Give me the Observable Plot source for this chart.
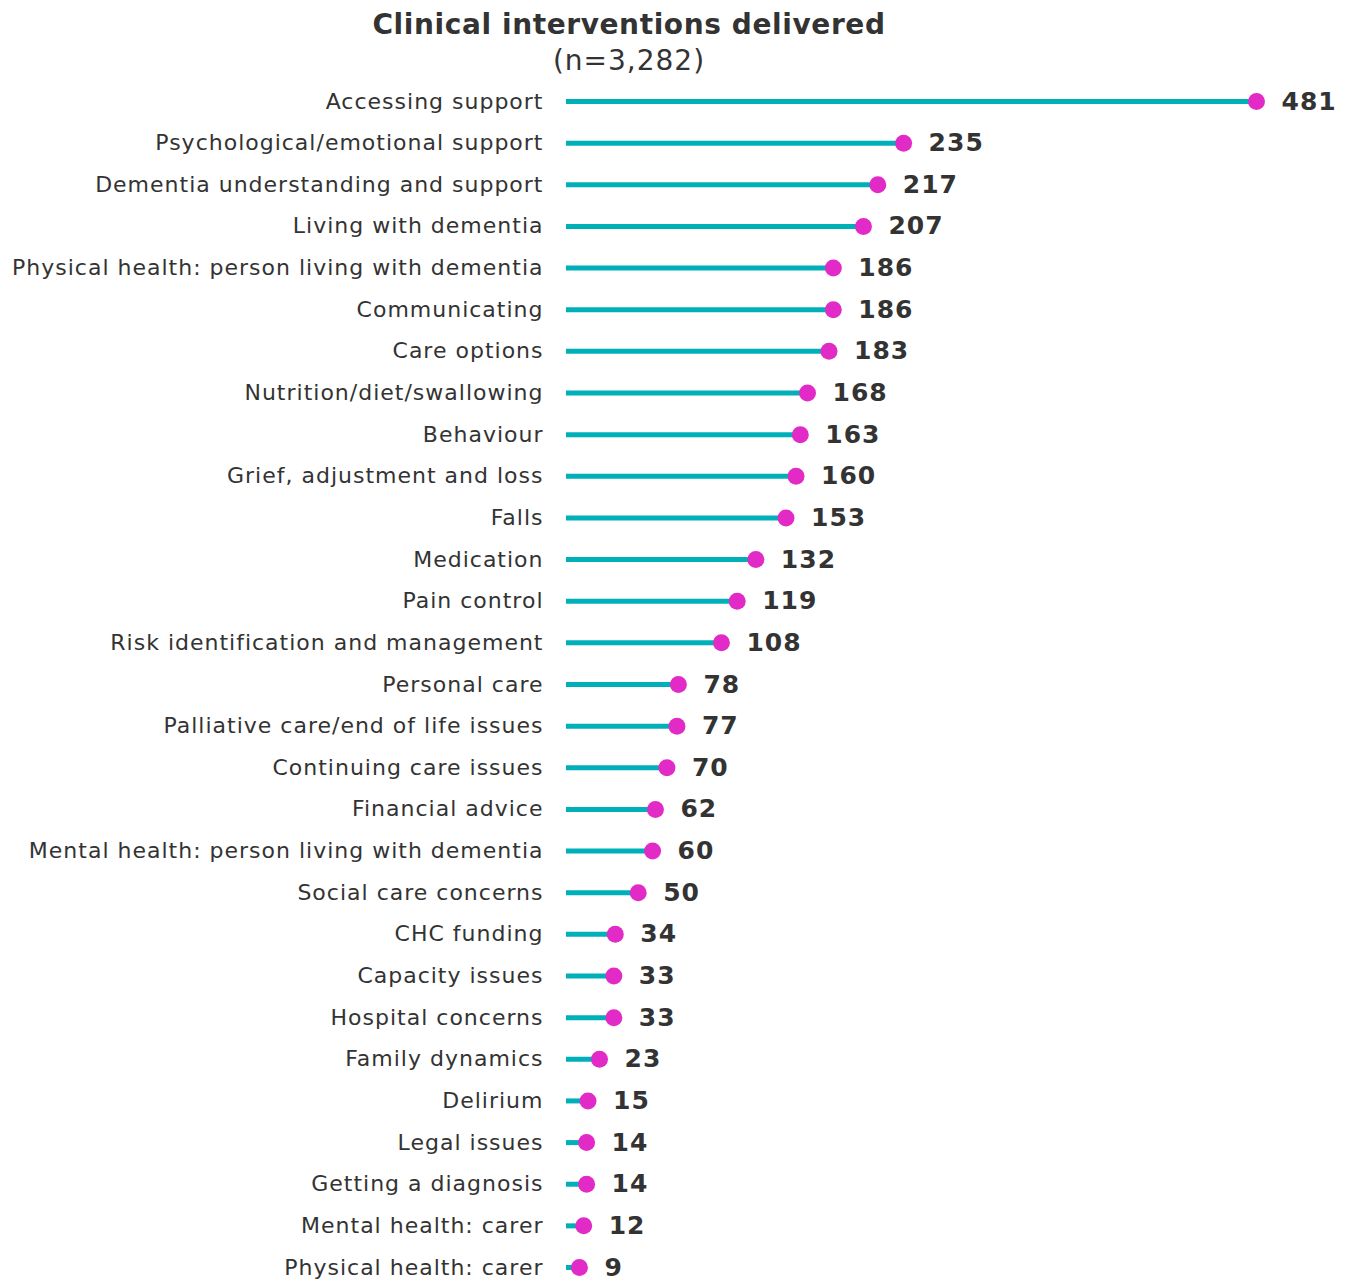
<!DOCTYPE html>
<html>
<head>
<meta charset="utf-8">
<script src="https://cdn.jsdelivr.net/npm/d3@7"></script>
<script src="https://cdn.jsdelivr.net/npm/@observablehq/plot@0.6"></script>
<style>
  html, body { margin: 0; padding: 0; background: #fff; }
  #wrap { position: relative; width: 1347px; height: 1282px; font-family: "DejaVu Sans", Verdana, sans-serif; color: #333; }
  #title { position: absolute; left: 629px; top: 5px; transform: translateX(-50%); font-size: 28px; font-weight: bold; white-space: nowrap; line-height: 40px; letter-spacing: 0.6px; }
  #subtitle { position: absolute; left: 629px; top: 42px; transform: translateX(-50%); font-size: 28px; white-space: nowrap; line-height: 38px; letter-spacing: 1px; }
  #chart { position: absolute; left: 0; top: 80px; line-height: 0; }
  #chart svg { display: block; }
  #chart svg text { letter-spacing: 1px; }
</style>
</head>
<body>
<div id="wrap">
  <div id="title">Clinical interventions delivered</div>
  <div id="subtitle">(n=3,282)</div>
  <div id="chart"></div>
</div>
<script>
const categories = [
  "Accessing support",
  "Psychological/emotional support",
  "Dementia understanding and support",
  "Living with dementia",
  "Physical health: person living with dementia",
  "Communicating",
  "Care options",
  "Nutrition/diet/swallowing",
  "Behaviour",
  "Grief, adjustment and loss",
  "Falls",
  "Medication",
  "Pain control",
  "Risk identification and management",
  "Personal care",
  "Palliative care/end of life issues",
  "Continuing care issues",
  "Financial advice",
  "Mental health: person living with dementia",
  "Social care concerns",
  "CHC funding",
  "Capacity issues",
  "Hospital concerns",
  "Family dynamics",
  "Delirium",
  "Legal issues",
  "Getting a diagnosis",
  "Mental health: carer",
  "Physical health: carer"
];
const values = [481, 235, 217, 207, 186, 186, 183, 168, 163, 160, 153, 132, 119, 108, 78, 77, 70, 62, 60, 50, 34, 33, 33, 23, 15, 14, 14, 12, 9];

const data = categories.map((c, i) => ({category: c, value: values[i]}));

const teal = "#00b0b9";
const magenta = "#e22bc6";

const chart = Plot.plot({
  width: 1347,
  height: 1202,
  marginLeft: 566,
  marginRight: 91,
  marginTop: 21,
  marginBottom: 15,
  style: { fontFamily: "DejaVu Sans, Verdana, sans-serif", color: "#333", background: "transparent" },
  x: { domain: [0, 481], axis: null },
  y: { type: "point", domain: categories, padding: 0, round: false, axis: null },
  marks: [
    Plot.axisY({ tickSize: 0, tickPadding: 23, fontSize: 22, fill: "#333", textAnchor: "end", label: null }),
    Plot.ruleY(data, { y: "category", x1: 0, x2: "value", stroke: teal, strokeWidth: 5 }),
    Plot.dot(data, { y: "category", x: "value", r: 8.5, fill: magenta }),
    Plot.text(data, { y: "category", x: "value", text: d => String(d.value), dx: 25, textAnchor: "start", fontSize: 25, fontWeight: "bold", fill: "#333" })
  ]
});
document.getElementById("chart").appendChild(chart);
</script>
</body>
</html>
